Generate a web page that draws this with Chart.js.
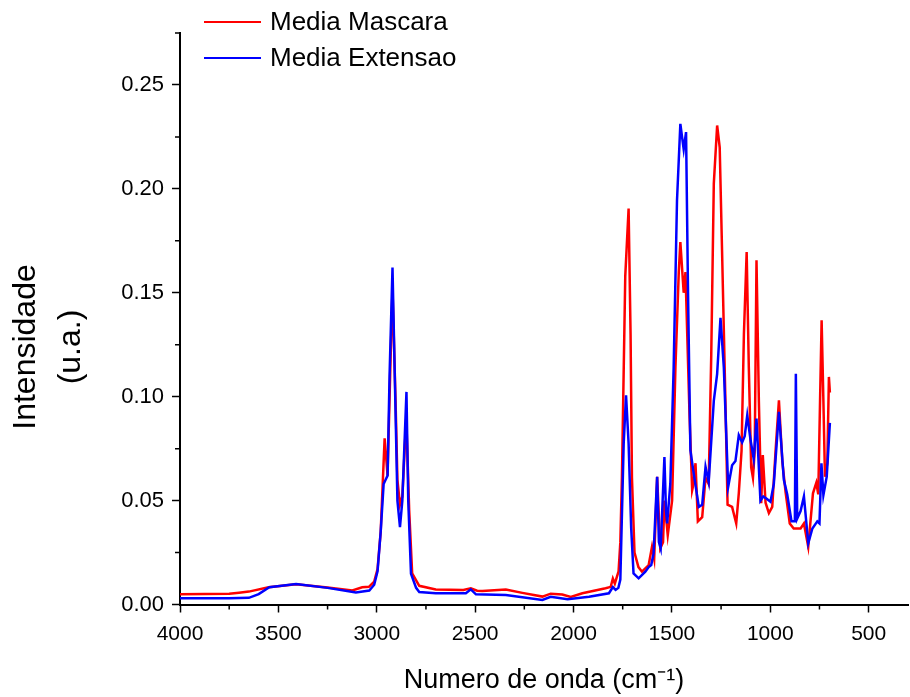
<!DOCTYPE html>
<html>
<head>
<meta charset="utf-8">
<title>Espectro</title>
<script src="https://cdn.jsdelivr.net/npm/chart.js@4.4.1/dist/chart.umd.min.js"></script>
<style>
    body { margin: 0; background: #fff; }
    canvas { display: block; }
</style>
</head>
<body>
<canvas id="spectrumChart" width="910" height="697"></canvas>
<script>
// Wavenumbers (cm-1) and intensities
const mascaraWave = [4000, 3750, 3700, 3650, 3550, 3410, 3250, 3124, 3074, 3040, 3013, 2996, 2980, 2960, 2945, 2932, 2920, 2905, 2895, 2882, 2870, 2850, 2835, 2820, 2784, 2700, 2560, 2522, 2490, 2463, 2344, 2260, 2158, 2116, 2057, 2014, 1955, 1837, 1811, 1800, 1790, 1771, 1762, 1754, 1737, 1720, 1710, 1703, 1690, 1670, 1652, 1618, 1601, 1590, 1575, 1559, 1545, 1538, 1521, 1499, 1482, 1465, 1457, 1440, 1431, 1410, 1397, 1390, 1380, 1368, 1346, 1329, 1313, 1300, 1287, 1270, 1257, 1245, 1228, 1217, 1194, 1173, 1160, 1146, 1134, 1120, 1109, 1097, 1088, 1079, 1070, 1058, 1046, 1038, 1024, 1007, 990, 973, 956, 939, 922, 901, 881, 846, 829, 807, 783, 766, 756, 747, 739, 730, 722, 710, 702, 697];
const mascaraInt = [0.0049, 0.0052, 0.0057, 0.0062, 0.0083, 0.0098, 0.0082, 0.0068, 0.0083, 0.0085, 0.0110, 0.0170, 0.035, 0.080, 0.062, 0.110, 0.152, 0.100, 0.060, 0.048, 0.052, 0.090, 0.045, 0.015, 0.0090, 0.0072, 0.0070, 0.0078, 0.0066, 0.0065, 0.0072, 0.0056, 0.0038, 0.0052, 0.0048, 0.0036, 0.0054, 0.0078, 0.0085, 0.0125, 0.0100, 0.0160, 0.030, 0.061, 0.158, 0.1905, 0.130, 0.061, 0.025, 0.018, 0.0158, 0.019, 0.0278, 0.022, 0.0615, 0.027, 0.030, 0.050, 0.0334, 0.050, 0.114, 0.160, 0.1744, 0.150, 0.160, 0.090, 0.055, 0.058, 0.068, 0.040, 0.042, 0.061, 0.058, 0.120, 0.2025, 0.2305, 0.220, 0.170, 0.098, 0.048, 0.047, 0.039, 0.0535, 0.074, 0.130, 0.1696, 0.114, 0.066, 0.061, 0.074, 0.1656, 0.098, 0.0487, 0.0719, 0.049, 0.044, 0.047, 0.074, 0.0983, 0.069, 0.054, 0.039, 0.0366, 0.0366, 0.039, 0.0278, 0.0535, 0.0586, 0.053, 0.098, 0.1368, 0.098, 0.0615, 0.068, 0.1095, 0.102];

const extensaoWave = [4000, 3750, 3650, 3600, 3546, 3410, 3250, 3106, 3038, 3013, 2996, 2980, 2965, 2955, 2945, 2935, 2920, 2905, 2895, 2882, 2870, 2856, 2849, 2840, 2826, 2800, 2784, 2700, 2547, 2522, 2496, 2344, 2158, 2116, 2030, 1921, 1820, 1800, 1786, 1772, 1762, 1745, 1733, 1720, 1707, 1695, 1669, 1635, 1618, 1605, 1593, 1575, 1566, 1557, 1538, 1530, 1524, 1508, 1491, 1474, 1457, 1440, 1428, 1418, 1406, 1389, 1363, 1346, 1329, 1313, 1287, 1270, 1253, 1236, 1214, 1194, 1177, 1160, 1143, 1130, 1117, 1100, 1084, 1070, 1050, 1036, 1020, 999, 982, 956, 931, 914, 892, 875, 870, 863, 846, 829, 807, 786, 761, 750, 740, 730, 713, 697];
const extensaoInt = [0.0030, 0.0030, 0.0032, 0.0050, 0.0083, 0.0099, 0.0080, 0.0058, 0.0067, 0.0095, 0.0160, 0.035, 0.058, 0.060, 0.062, 0.110, 0.1622, 0.095, 0.050, 0.0372, 0.050, 0.085, 0.1023, 0.050, 0.0148, 0.0080, 0.0060, 0.0054, 0.0054, 0.0073, 0.0049, 0.0046, 0.0022, 0.0037, 0.0025, 0.0037, 0.0054, 0.0084, 0.0070, 0.0080, 0.012, 0.0775, 0.1007, 0.0775, 0.037, 0.015, 0.0126, 0.0158, 0.018, 0.019, 0.0246, 0.0615, 0.030, 0.027, 0.071, 0.045, 0.039, 0.058, 0.114, 0.1945, 0.2313, 0.219, 0.2273, 0.150, 0.0743, 0.063, 0.047, 0.048, 0.0663, 0.059, 0.098, 0.111, 0.138, 0.114, 0.0566, 0.067, 0.069, 0.0815, 0.078, 0.081, 0.091, 0.079, 0.070, 0.0895, 0.050, 0.052, 0.051, 0.0494, 0.058, 0.0927, 0.060, 0.053, 0.040, 0.040, 0.111, 0.0414, 0.045, 0.052, 0.0294, 0.0366, 0.040, 0.039, 0.0679, 0.0526, 0.0615, 0.0874];

const xTickValues = [4000, 3500, 3000, 2500, 2000, 1500, 1000, 500];
const xMinorTicks = [3750, 3250, 2750, 2250, 1750, 1250, 750];
const yTickValues = [0, 0.05, 0.10, 0.15, 0.20, 0.25];
const yMinorTicks = [0.025, 0.075, 0.125, 0.175, 0.225, 0.275];

const FONT = "'Liberation Sans', Arial, sans-serif";

function toPoints(waves, values) {
    return waves.map((w, i) => ({ x: w, y: values[i] }));
}

// Short minor ticks, the library only draws one tick length
const minorTicksPlugin = {
    id: 'minorTicks',
    afterDraw(chart) {
        const ctx = chart.ctx;
        const xs = chart.scales.x;
        const ys = chart.scales.y;
        ctx.save();
        ctx.strokeStyle = '#000';
        ctx.lineWidth = 1.5;
        ctx.beginPath();
        xMinorTicks.forEach(v => {
            const px = xs.getPixelForValue(v);
            ctx.moveTo(px, xs.top);
            ctx.lineTo(px, xs.top + 5);
        });
        yMinorTicks.forEach(v => {
            const py = ys.getPixelForValue(v);
            ctx.moveTo(ys.right, py);
            ctx.lineTo(ys.right - 5, py);
        });
        ctx.stroke();
        ctx.restore();
    }
};

// Legend drawn over the top-left of the plot, like the original
const insetLegendPlugin = {
    id: 'insetLegend',
    afterDraw(chart) {
        const ctx = chart.ctx;
        ctx.save();
        ctx.font = '26px ' + FONT;
        ctx.textBaseline = 'middle';
        chart.data.datasets.forEach((ds, i) => {
            const y = 22 + i * 36;
            ctx.strokeStyle = ds.borderColor;
            ctx.lineWidth = 2.2;
            ctx.beginPath();
            ctx.moveTo(204, y);
            ctx.lineTo(261, y);
            ctx.stroke();
            ctx.fillStyle = '#000';
            ctx.fillText(ds.label, 270, y + 1);
        });
        ctx.restore();
    }
};

// Two-line y title, placed a bit below the plot middle
const yTitlePlugin = {
    id: 'yTitle',
    afterDraw(chart) {
        const ctx = chart.ctx;
        ctx.save();
        ctx.fillStyle = '#000';
        ctx.font = '32px ' + FONT;
        ctx.textAlign = 'center';
        ctx.textBaseline = 'alphabetic';
        ctx.translate(0, 347);
        ctx.rotate(-Math.PI / 2);
        ctx.fillText('Intensidade', 0, 35);
        ctx.fillText('(u.a.)', 0, 80);
        ctx.restore();
    }
};

const ctx = document.getElementById('spectrumChart').getContext('2d');
new Chart(ctx, {
    type: 'line',
    data: {
        datasets: [{
            label: 'Media Mascara',
            data: toPoints(mascaraWave, mascaraInt),
            borderColor: '#ff0000',
            borderWidth: 2.5,
            pointRadius: 0,
            tension: 0,
            fill: false,
            order: 1
        }, {
            label: 'Media Extensao',
            data: toPoints(extensaoWave, extensaoInt),
            borderColor: '#0000ff',
            borderWidth: 2.5,
            pointRadius: 0,
            tension: 0,
            fill: false,
            order: 0
        }]
    },
    options: {
        responsive: false,
        animation: false,
        layout: {
            padding: { top: 33, right: 2, left: 0, bottom: 0 }
        },
        plugins: {
            legend: { display: false },
            tooltip: { enabled: false }
        },
        scales: {
            x: {
                type: 'linear',
                reverse: true,
                min: 300,
                max: 4000,
                afterBuildTicks: scale => {
                    scale.ticks = xTickValues.map(v => ({ value: v }));
                },
                afterFit: scale => { scale.height = 92.5; },
                ticks: {
                    color: '#000',
                    font: { family: FONT, size: 21 },
                    padding: 9,
                    maxRotation: 0,
                    autoSkip: false,
                    callback: value => String(value)
                },
                grid: {
                    drawOnChartArea: false,
                    drawTicks: true,
                    tickLength: 8,
                    tickColor: '#000',
                    tickWidth: 1.5
                },
                border: { display: true, color: '#000', width: 2 },
                title: {
                    display: true,
                    text: 'Numero de onda (cm\u207B\u00B9)',
                    color: '#000',
                    font: { family: FONT, size: 27 },
                    padding: { top: 0, bottom: 0 }
                }
            },
            y: {
                min: 0,
                max: 0.275,
                afterBuildTicks: scale => {
                    scale.ticks = yTickValues.map(v => ({ value: v }));
                },
                afterFit: scale => { scale.width = 180; },
                ticks: {
                    color: '#000',
                    font: { family: FONT, size: 22 },
                    padding: 8,
                    autoSkip: false,
                    callback: value => value.toFixed(2)
                },
                grid: {
                    drawOnChartArea: false,
                    drawTicks: true,
                    tickLength: 8,
                    tickColor: '#000',
                    tickWidth: 1.5
                },
                border: { display: true, color: '#000', width: 2 },
                title: { display: false }
            }
        }
    },
    plugins: [minorTicksPlugin, insetLegendPlugin, yTitlePlugin]
});
</script>
</body>
</html>
